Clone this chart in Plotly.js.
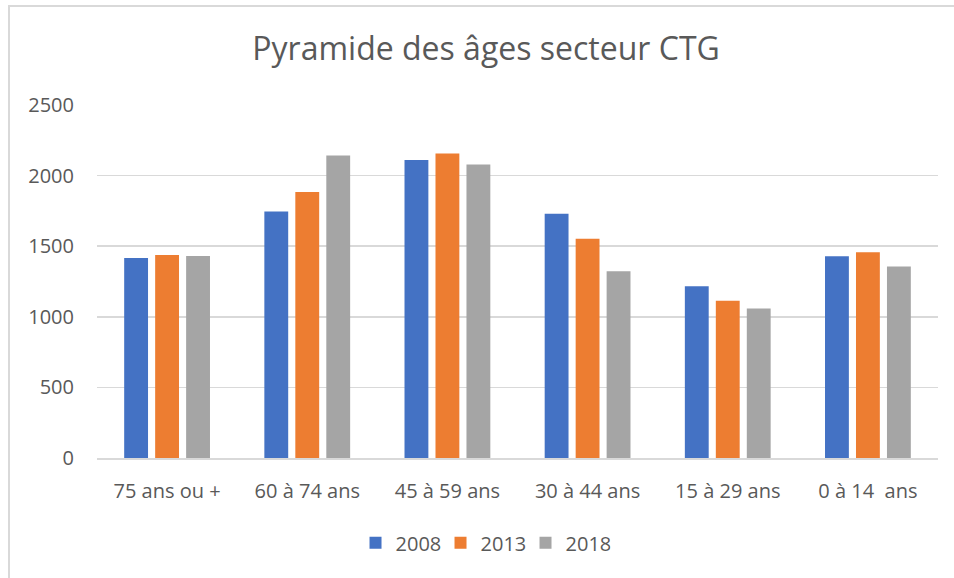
<!DOCTYPE html>
<html>
<head>
<meta charset="utf-8">
<script src="https://cdn.plot.ly/plotly-3.0.1.min.js"></script>
<style>
  body { margin: 0; background: #fff; }
  #frame { position: absolute; left: 8px; top: 5px; width: 1000px; height: 1000px; border-left: 2px solid #d9d9d9; border-top: 2px solid #d9d9d9; pointer-events: none; z-index: 5; }
  #chart { position: absolute; left: 0; top: 0; width: 954px; height: 578px; }
</style>
</head>
<body>
<div id="chart"></div>
<div id="frame"></div>
<script>
const categories = ["75 ans ou +", "60 à 74 ans", "45 à 59 ans", "30 à 44 ans", "15 à 29 ans", "0 à 14  ans"];
const values2008 = [1416, 1746, 2111, 1729, 1216, 1428];
const values2013 = [1438, 1883, 2156, 1553, 1114, 1458];
const values2018 = [1431, 2142, 2078, 1322, 1058, 1357];
const yTicks = [0, 500, 1000, 1500, 2000, 2500];

const font = "'Open Sans', 'Noto Sans', sans-serif";
const traces = [
  { name: "2008", y: values2008, color: "#4472C4" },
  { name: "2013", y: values2013, color: "#ED7D31" },
  { name: "2018", y: values2018, color: "#A5A5A5" }
].map(s => ({
  type: "bar", x: categories, y: s.y, name: s.name,
  marker: { color: s.color }
}));

const layout = {
  width: 954, height: 578,
  paper_bgcolor: "#ffffff", plot_bgcolor: "#ffffff",
  margin: { l: 97, r: 16, t: 105, b: 120 },
  barmode: "group", bargap: 0.337, bargroupgap: 0.23,
  font: { family: font, color: "#595959", size: 20 },
  title: { text: "Pyramide des âges secteur CTG", font: { family: font, size: 32, color: "#595959" }, x: 0.4626, xref: "paper", xanchor: "center", y: 0.915, yanchor: "middle" },
  xaxis: { type: "category", tickfont: { size: 20 }, showline: true, linecolor: "#d9d9d9", linewidth: 1.5, ticks: "", ticklabelstandoff: 14, fixedrange: true },
  yaxis: { range: [0, 2500], tickvals: yTicks, ticktext: yTicks.map(String), tickfont: { size: 20 }, gridcolor: "#d9d9d9", gridwidth: 1.5, zeroline: false, showline: false, ticks: "", ticklabelstandoff: 22, fixedrange: true },
  legend: { orientation: "h", x: 0.459, xanchor: "center", y: -0.24, yanchor: "middle", font: { size: 20 }, itemwidth: 30, entrywidth: 40, entrywidthmode: "pixels", traceorder: "normal" },
  showlegend: true
};
Plotly.newPlot("chart", traces, layout, { displayModeBar: false, staticPlot: true });
</script>
</body>
</html>
